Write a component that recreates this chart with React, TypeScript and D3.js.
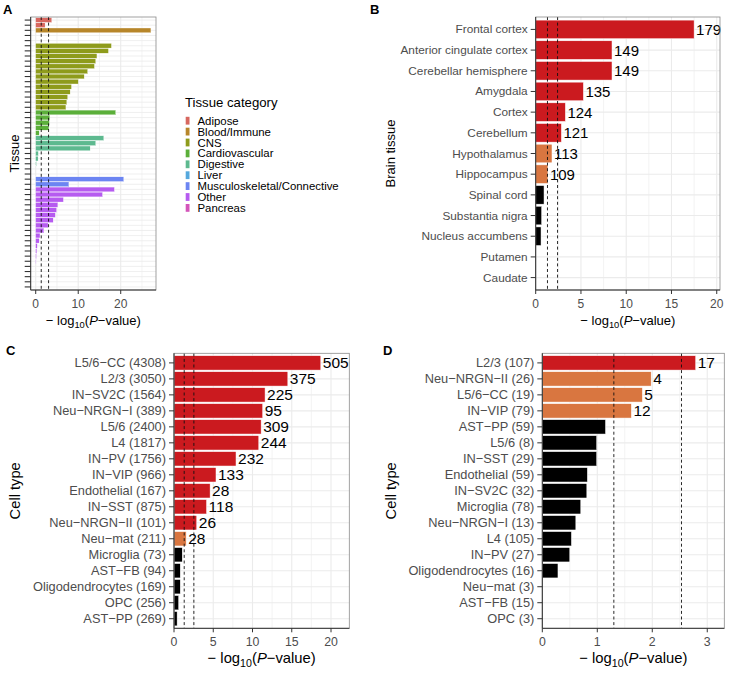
import React from "react";
import * as d3 from "d3";

// ---------- Panel A data ----------
const tissueCategories = [
  "Adipose",
  "Blood/Immune",
  "CNS",
  "Cardiovascular",
  "Digestive",
  "Liver",
  "Musculoskeletal/Connective",
  "Other",
  "Pancreas",
];
const categoryColors = [
  "#D7675F",
  "#B7862A",
  "#8E9B1B",
  "#5BAF3A",
  "#5DB98F",
  "#55A8DD",
  "#6C85F2",
  "#B65BF0",
  "#D455BA",
];
const adiposeValues = [3.76, 2.2];
const bloodValues = [27.1, 0, 0];
const cnsValues = [17.8, 17.1, 14.4, 14.1, 13.8, 12.2, 11.4, 10.0, 8.4, 8.1, 7.5, 7.3, 7.1];
const cardioValues = [18.8, 3.3, 3.2, 3.1, 0.8];
const digestiveValues = [16.0, 14.1, 12.8, 0.6, 0.55, 0.15, 0];
const liverValues = [0];
const muscValues = [20.7, 7.8];
const otherValues = [18.5, 15.7, 6.5, 5.2, 4.9, 4.6, 4.1, 2.9, 1.9, 1.0, 0.8, 0.35, 0.25, 0.15, 0.08, 0, 0, 0];
const pancreasValues = [0, 0];
const tissueValuesByCategory = [
  adiposeValues,
  bloodValues,
  cnsValues,
  cardioValues,
  digestiveValues,
  liverValues,
  muscValues,
  otherValues,
  pancreasValues,
];
const xTicksA = [0, 10, 20];
const xMinorA = [5, 15, 25];

// ---------- Panel B data ----------
const brainTissues = [
  "Frontal cortex",
  "Anterior cingulate cortex",
  "Cerebellar hemisphere",
  "Amygdala",
  "Cortex",
  "Cerebellum",
  "Hypothalamus",
  "Hippocampus",
  "Spinal cord",
  "Substantia nigra",
  "Nucleus accumbens",
  "Putamen",
  "Caudate",
];
const brainValues = [17.5, 8.43, 8.43, 5.27, 3.28, 2.84, 1.8, 1.35, 0.92, 0.66, 0.59, 0, 0];
const brainGenes = [179, 149, 149, 135, 124, 121, 113, 109, 0, 0, 0, 0, 0];
const xTicksB = [0, 5, 10, 15, 20];
const xMinorB = [2.5, 7.5, 12.5, 17.5];

// ---------- Panel C data ----------
const cellTypesC = [
  "L5/6−CC (4308)",
  "L2/3 (3050)",
  "IN−SV2C (1564)",
  "Neu−NRGN−I (389)",
  "L5/6 (2400)",
  "L4 (1817)",
  "IN−PV (1756)",
  "IN−VIP (966)",
  "Endothelial (167)",
  "IN−SST (875)",
  "Neu−NRGN−II (101)",
  "Neu−mat (211)",
  "Microglia (73)",
  "AST−FB (94)",
  "Oligodendrocytes (169)",
  "OPC (256)",
  "AST−PP (269)",
];
const valuesC = [18.7, 14.5, 11.6, 11.3, 11.1, 10.8, 7.9, 5.35, 4.6, 4.15, 2.9, 1.55, 1.05, 0.8, 0.8, 0.6, 0.4];
const genesC = [505, 375, 225, 95, 309, 244, 232, 133, 28, 118, 26, 28, 0, 0, 0, 0, 0];
const xTicksC = [0, 5, 10, 15, 20];
const xMinorC = [2.5, 7.5, 12.5, 17.5];

// ---------- Panel D data ----------
const cellTypesD = [
  "L2/3 (107)",
  "Neu−NRGN−II (26)",
  "L5/6−CC (19)",
  "IN−VIP (79)",
  "AST−PP (59)",
  "L5/6 (8)",
  "IN−SST (29)",
  "Endothelial (59)",
  "IN−SV2C (32)",
  "Microglia (78)",
  "Neu−NRGN−I (13)",
  "L4 (105)",
  "IN−PV (27)",
  "Oligodendrocytes (16)",
  "Neu−mat (3)",
  "AST−FB (15)",
  "OPC (3)",
];
const valuesD = [2.79, 1.98, 1.82, 1.62, 1.15, 0.99, 0.99, 0.82, 0.81, 0.7, 0.61, 0.53, 0.5, 0.285, 0, 0, 0];
const genesD = [17, 4, 5, 12, 0, 0, 0, 0, 0, 0, 0, 0, 0, 0, 0, 0, 0];
const xTicksD = [0, 1, 2, 3];
const xMinorD = [0.5, 1.5, 2.5];

const FONT = "'Liberation Sans', Arial, Helvetica, sans-serif";
const RED = "#CB1A1F";
const ORANGE = "#D97640";
const GRID = "#EBEBEB";
const NOMINAL = -Math.log10(0.05);

type Rect = { x0: number; x1: number; y0: number; y1: number };
type Fonts = { yLab: number; xLab: number; title: number; num: number; titleDy: number };

const topFonts: Fonts = { yLab: 11.8, xLab: 12, title: 13, num: 15, titleDy: 35 };
const bottomFonts: Fonts = { yLab: 12.8, xLab: 12.3, title: 14.8, num: 15.5, titleDy: 35 };

function XTitle({ cx, y, size }: { cx: number; y: number; size: number }) {
  return (
    <text x={cx} y={y} textAnchor="middle" fontSize={size} fontFamily={FONT} fill="#000">
      <tspan>{"− log"}</tspan>
      <tspan fontSize={size * 0.72} dy={size * 0.25}>10</tspan>
      <tspan dy={-size * 0.25}>(</tspan>
      <tspan fontStyle="italic">P</tspan>
      <tspan>−value)</tspan>
    </text>
  );
}

function Panel(props: {
  rect: Rect;
  names: string[];
  values: number[];
  colors: string[];
  labels?: (number | null)[];
  domain: [number, number];
  ticks: number[];
  minors: number[];
  lines: number[];
  showNames: boolean;
  fonts: Fonts;
}) {
  const { rect, names, values, colors, labels, domain, ticks, minors, lines, showNames, fonts } = props;
  const x = d3.scaleLinear().domain(domain).range([rect.x0, rect.x1]);
  const y = d3
    .scaleBand<string>()
    .domain(names)
    .range([rect.y0, rect.y1])
    .paddingInner(0.1)
    .paddingOuter(0.15);
  const bw = y.bandwidth();
  const step = y.step();
  const x0 = x(0);
  return (
    <g>
      <rect x={rect.x0} y={rect.y0} width={rect.x1 - rect.x0} height={rect.y1 - rect.y0} fill="#fff" />
      {minors.map((t) => (
        <line key={"m" + t} x1={x(t)} x2={x(t)} y1={rect.y0} y2={rect.y1} stroke={GRID} strokeWidth={0.6} />
      ))}
      {ticks.map((t) => (
        <line key={"t" + t} x1={x(t)} x2={x(t)} y1={rect.y0} y2={rect.y1} stroke={GRID} strokeWidth={1.1} />
      ))}
      {names.map((n) => (
        <line
          key={"h" + n}
          x1={rect.x0}
          x2={rect.x1}
          y1={(y(n) as number) + bw / 2}
          y2={(y(n) as number) + bw / 2}
          stroke={GRID}
          strokeWidth={step > 8 ? 1.1 : 0.8}
        />
      ))}
      {names.map((n, i) => (
        <rect
          key={"b" + n}
          x={x0}
          y={y(n) as number}
          width={Math.max(0, x(values[i]) - x0)}
          height={bw}
          fill={colors[i]}
          stroke="#fff"
          strokeWidth={step > 8 ? 0.5 : 0.25}
        />
      ))}
      {lines.map((v) => (
        <line
          key={"d" + v}
          x1={x(v)}
          x2={x(v)}
          y1={rect.y0}
          y2={rect.y1}
          stroke="#111"
          strokeWidth={0.9}
          strokeDasharray="3,2.6"
        />
      ))}
      {labels &&
        names.map((n, i) =>
          labels[i] ? (
            <text
              key={"l" + n}
              x={x(values[i]) + 2}
              y={(y(n) as number) + bw / 2}
              dominantBaseline="central"
              fontSize={fonts.num}
              fontFamily={FONT}
              fill="#000"
            >
              {labels[i]}
            </text>
          ) : null
        )}
      <rect
        x={rect.x0}
        y={rect.y0}
        width={rect.x1 - rect.x0}
        height={rect.y1 - rect.y0}
        fill="none"
        stroke="#8A8A8A"
        strokeWidth={0.8}
      />
      <line x1={rect.x0} x2={rect.x0} y1={rect.y0} y2={rect.y1} stroke="#333" strokeWidth={1} />
      <line x1={rect.x0} x2={rect.x1} y1={rect.y1} y2={rect.y1} stroke="#333" strokeWidth={1} />
      {names.map((n) => {
        const cy = (y(n) as number) + bw / 2;
        return (
          <g key={"yt" + n}>
            <line
              x1={rect.x0 - (showNames ? 5 : 6)}
              x2={rect.x0}
              y1={cy}
              y2={cy}
              stroke="#333"
              strokeWidth={showNames ? 1 : 1.1}
            />
            {showNames && (
              <text
                x={rect.x0 - 8}
                y={cy}
                textAnchor="end"
                dominantBaseline="central"
                fontSize={fonts.yLab}
                fontFamily={FONT}
                fill="#4D4D4D"
              >
                {n}
              </text>
            )}
          </g>
        );
      })}
      {ticks.map((t) => (
        <g key={"xt" + t}>
          <line x1={x(t)} x2={x(t)} y1={rect.y1} y2={rect.y1 + 4} stroke="#333" strokeWidth={1} />
          <text
            x={x(t)}
            y={rect.y1 + 18}
            textAnchor="middle"
            fontSize={fonts.xLab}
            fontFamily={FONT}
            fill="#4D4D4D"
          >
            {t}
          </text>
        </g>
      ))}
      <XTitle cx={(rect.x0 + rect.x1) / 2} y={rect.y1 + fonts.titleDy} size={fonts.title} />
    </g>
  );
}

function sigColor(v: number, bonf: number) {
  if (v > bonf) return RED;
  if (v > NOMINAL) return ORANGE;
  return "#000";
}

export default function App() {
  const rowsA: { name: string; value: number; color: string }[] = [];
  tissueValuesByCategory.forEach((vals, ci) => {
    vals.forEach((v, j) => {
      rowsA.push({ name: tissueCategories[ci] + "_" + j, value: v, color: categoryColors[ci] });
    });
  });
  const bonfA = -Math.log10(0.05 / rowsA.length);
  const bonfB = -Math.log10(0.05 / brainTissues.length);
  const bonfC = -Math.log10(0.05 / cellTypesC.length);
  const bonfD = -Math.log10(0.05 / cellTypesD.length);

  const rectA: Rect = { x0: 30.7, x1: 156, y0: 17, y1: 290 };
  const rectB: Rect = { x0: 535.7, x1: 720, y0: 17, y1: 290 };
  const rectC: Rect = { x0: 174, x1: 349.3, y0: 353.3, y1: 628.3 };
  const rectD: Rect = { x0: 542.3, x1: 724.3, y0: 353.3, y1: 628.3 };

  const label = (vals: number[], genes: number[]) =>
    vals.map((v, i) => (v > NOMINAL ? genes[i] : null));

  return (
    <div style={{ position: "absolute", left: 0, top: 0 }}>
      <svg width={729} height={673} style={{ display: "block", background: "#fff" }}>
        <rect width={729} height={673} fill="#fff" />
        <text x={3} y={14} fontSize={13} fontWeight="bold" fontFamily={FONT}>A</text>
        <text x={370} y={13.5} fontSize={13} fontWeight="bold" fontFamily={FONT}>B</text>
        <text x={6} y={355} fontSize={13} fontWeight="bold" fontFamily={FONT}>C</text>
        <text x={383} y={355} fontSize={13} fontWeight="bold" fontFamily={FONT}>D</text>

        <Panel
          rect={rectA}
          names={rowsA.map((r) => r.name)}
          values={rowsA.map((r) => r.value)}
          colors={rowsA.map((r) => r.color)}
          domain={[-1.18, 28.3]}
          ticks={xTicksA}
          minors={xMinorA}
          lines={[NOMINAL, bonfA]}
          showNames={false}
          fonts={topFonts}
        />
        <text
          transform={`translate(14,${(rectA.y0 + rectA.y1) / 2}) rotate(-90)`}
          textAnchor="middle"
          dominantBaseline="central"
          fontSize={13}
          fontFamily={FONT}
        >
          Tissue
        </text>
        <text x={185} y={107} fontSize={13.2} fontFamily={FONT}>Tissue category</text>
        {tissueCategories.map((c, i) => (
          <g key={c}>
            <rect x={185.7} y={120.7 + i * 10.9 - 3.9} width={3.8} height={7.8} fill={categoryColors[i]} />
            <text
              x={197.5}
              y={120.7 + i * 10.9}
              dominantBaseline="central"
              fontSize={11.4}
              fontFamily={FONT}
              fill="#000"
            >
              {c}
            </text>
          </g>
        ))}

        <Panel
          rect={rectB}
          names={brainTissues}
          values={brainValues}
          colors={brainValues.map((v) => sigColor(v, bonfB))}
          labels={label(brainValues, brainGenes)}
          domain={[0, 20.36]}
          ticks={xTicksB}
          minors={xMinorB}
          lines={[NOMINAL, bonfB]}
          showNames={true}
          fonts={topFonts}
        />
        <text
          transform={`translate(390,${(rectB.y0 + rectB.y1) / 2}) rotate(-90)`}
          textAnchor="middle"
          dominantBaseline="central"
          fontSize={13}
          fontFamily={FONT}
        >
          Brain tissue
        </text>

        <Panel
          rect={rectC}
          names={cellTypesC}
          values={valuesC}
          colors={valuesC.map((v) => sigColor(v, bonfC))}
          labels={label(valuesC, genesC)}
          domain={[0, 22.33]}
          ticks={xTicksC}
          minors={xMinorC}
          lines={[NOMINAL, bonfC]}
          showNames={true}
          fonts={bottomFonts}
        />
        <text
          transform={`translate(15,${(rectC.y0 + rectC.y1) / 2}) rotate(-90)`}
          textAnchor="middle"
          dominantBaseline="central"
          fontSize={14.7}
          fontFamily={FONT}
        >
          Cell type
        </text>

        <Panel
          rect={rectD}
          names={cellTypesD}
          values={valuesD}
          colors={valuesD.map((v) => sigColor(v, bonfD))}
          labels={label(valuesD, genesD)}
          domain={[0, 3.31]}
          ticks={xTicksD}
          minors={xMinorD}
          lines={[NOMINAL, bonfD]}
          showNames={true}
          fonts={bottomFonts}
        />
        <text
          transform={`translate(391,${(rectD.y0 + rectD.y1) / 2}) rotate(-90)`}
          textAnchor="middle"
          dominantBaseline="central"
          fontSize={14.7}
          fontFamily={FONT}
        >
          Cell type
        </text>
      </svg>
    </div>
  );
}
